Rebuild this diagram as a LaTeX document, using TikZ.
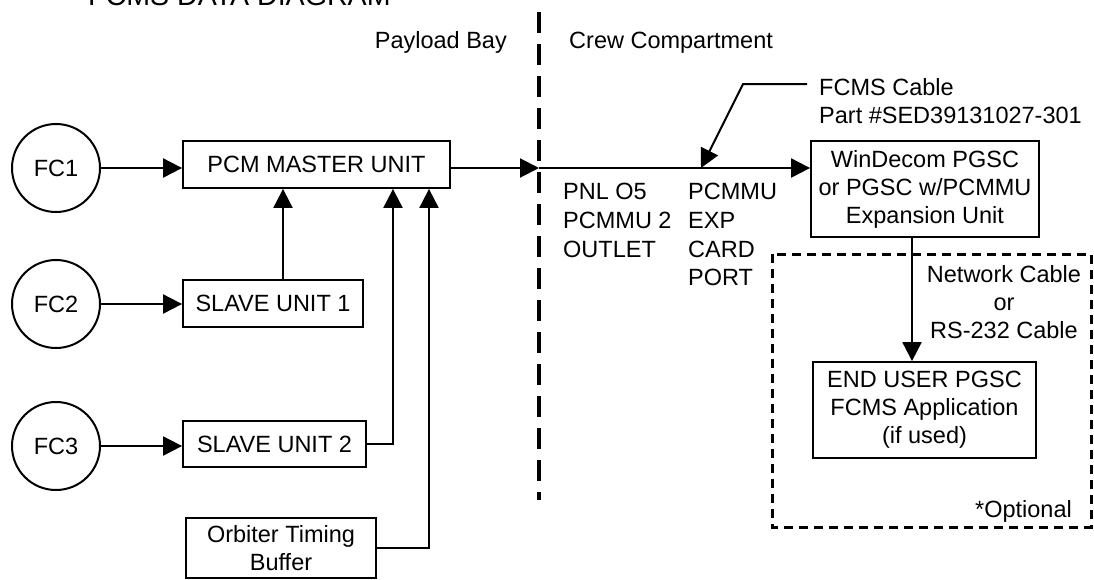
\documentclass[tikz,border=0pt]{standalone}
\usepackage{fontspec}
\setmainfont{Liberation Sans}
\usetikzlibrary{arrows.meta, positioning}

\begin{document}
\begin{tikzpicture}[
  x=1pt, y=-1pt,
  font=\fontsize{23.5}{28}\selectfont,
  fc/.style={circle, draw, line width=2pt, minimum size=88pt, inner sep=0pt},
  unit/.style={rectangle, draw, line width=1.8pt, align=center, inner sep=0pt},
  txt/.style={inner sep=0pt, align=left},
  arr/.style={-{Triangle[length=19pt, width=19pt]}, line width=2pt},
  divider/.style={line width=3.5pt, dash pattern=on 21pt off 11pt},
  optbox/.style={line width=3pt, dash pattern=on 9pt off 6pt}
]

\useasboundingbox (0,0) rectangle (1094,579);

% -------------------------
% HEADINGS
% -------------------------
\node[txt, anchor=base west, font=\fontsize{28.6}{32}\selectfont] (title) at (88,5) {FCMS DATA DIAGRAM};
\node[txt, anchor=base east] (payload) at (507,48) {Payload Bay};
\node[txt, anchor=base west] (crew) at (569,48) {Crew Compartment};

% Bay / compartment divider
\coordinate (divtop) at (539,12);
\coordinate (divbot) at (539,500);
\draw[divider] (divtop) -- (divbot);

% -------------------------
% PAYLOAD BAY
% -------------------------
\node[fc] (fc1) at (56,168) {FC1};
\node[fc] (fc2) at (56,304) {FC2};
\node[fc] (fc3) at (56,446) {FC3};

\node[unit, minimum width=267pt, minimum height=47pt] (master) at (316.5,164.5) {PCM MASTER UNIT};
\node[unit, minimum width=180pt, minimum height=47pt] (slave1) at (273,303.5) {SLAVE UNIT 1};
\node[unit, minimum width=183pt, minimum height=46pt] (slave2) at (274.5,444) {SLAVE UNIT 2};
\node[unit, minimum width=190pt, minimum height=60pt] (orbiter) at (281,548) {Orbiter Timing\\Buffer};

\coordinate (s1up) at (283,0);
\coordinate (s2up) at (393,0);
\coordinate (obup) at (429,0);

\draw[arr] (fc1) -- (fc1 -| master.west);
\draw[arr] (fc2) -- (fc2 -| slave1.west);
\draw[arr] (fc3) -- (fc3 -| slave2.west);

\draw[arr] (slave1.north -| s1up) -- (s1up |- master.south);
\draw[arr] (slave2.east) -| (s2up |- master.south);
\draw[arr] (orbiter.east) -| (obup |- master.south);

% -------------------------
% CREW COMPARTMENT
% -------------------------
\coordinate (gate) at (539,168);

\node[unit, minimum width=228pt, minimum height=96pt] (windecom) at (925,189) {WinDecom PGSC\\or PGSC w/PCMMU\\Expansion Unit};
\node[unit, minimum width=223pt, minimum height=96pt] (enduser) at (924.5,410) {END USER PGSC\\FCMS Application\\(if used)};

\node[txt, anchor=north west, font=\fontsize{23.5}{28.7}\selectfont] (outlet) at (563,183) {PNL O5\\PCMMU 2\\OUTLET};
\node[txt, anchor=north west, font=\fontsize{23.5}{28.7}\selectfont] (port) at (688,183) {PCMMU\\EXP\\CARD\\PORT};

\draw[arr] (master.east |- gate) -- (gate);
\draw[arr] (gate) -- (gate -| windecom.west);

% Cable callout
\coordinate (cableend) at (807,84);
\coordinate (cablebend) at (743,84);
\coordinate (cabletip) at (701,168);
\node[txt, anchor=north west] (cable) at (819,78) {FCMS Cable\\Part \#SED39131027-301};
\draw[arr] (cableend) -- (cablebend) -- (cabletip);

% Optional end user
\draw[optbox] (772,254) rectangle (1091,527);
\coordinate (netx) at (912,0);
\node[txt, align=center, anchor=north] (netcable) at (1004,265) {Network Cable\\or\\RS-232 Cable};
\node[txt, anchor=base east] (optional) at (1072,517) {*Optional};

\draw[arr] (windecom.south -| netx) -- (netx |- enduser.north);

\end{tikzpicture}
\end{document}
